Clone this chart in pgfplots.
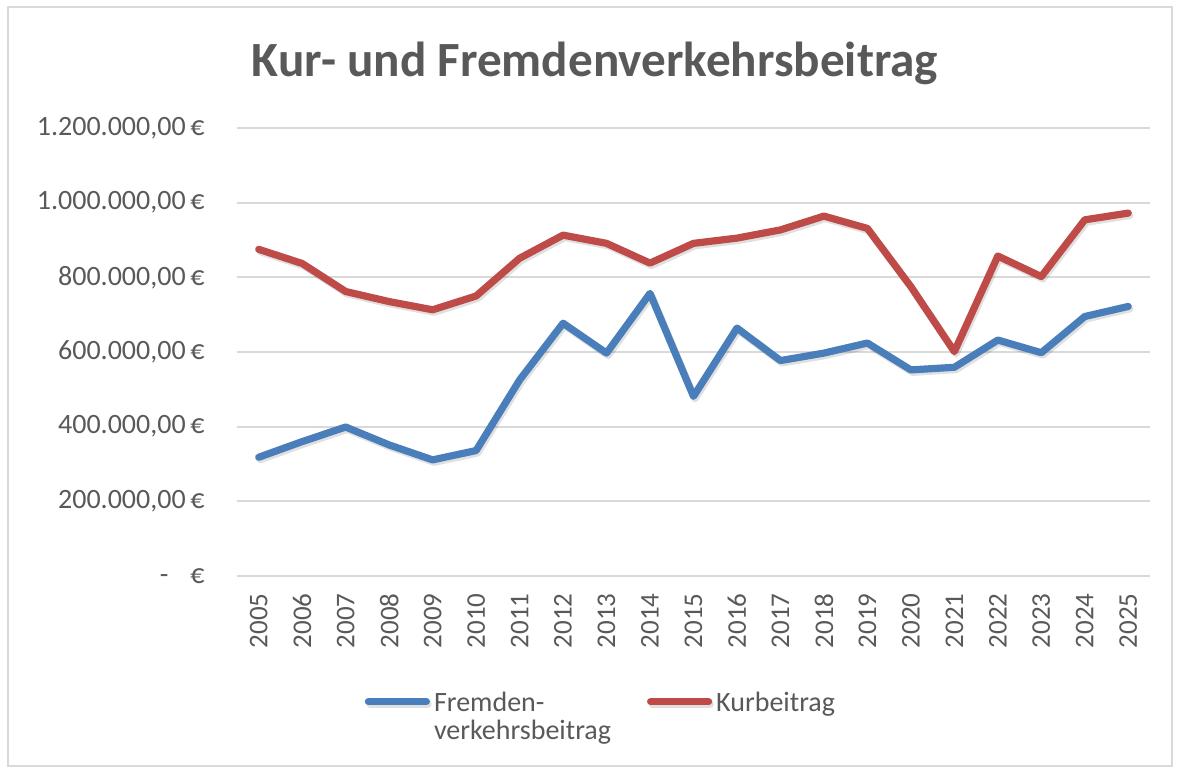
\documentclass[border=0pt]{standalone}
\usepackage{fontspec}
\setmainfont{Carlito}
\usepackage{pgfplots}
\pgfplotsset{compat=1.18}
\definecolor{txtgray}{HTML}{595959}
\definecolor{gridgray}{HTML}{D9D9D9}
\definecolor{serblue}{HTML}{4A7EBB}
\definecolor{serred}{HTML}{BE4B48}
\begin{document}
\begin{tikzpicture}
\path[use as bounding box] (0,0) rectangle (590pt,384.5pt);
\draw[gridgray, line width=0.8pt] (4pt,1.5pt) rectangle (586pt,381pt);
\node[anchor=base, text=txtgray, font=\fontsize{24.6}{30}\selectfont\bfseries, inner sep=0pt] at (297.5pt,346pt) {Kur- und Fremdenverkehrsbeitrag};
\begin{axis}[
  at={(118.5pt,96.5pt)}, anchor=south west,
  scale only axis, width=456.5pt, height=224pt,
  xmin=2004.5, xmax=2025.5, ymin=0, ymax=1200000,
  scaled y ticks=false,
  axis line style={draw=none},
  tick style={draw=none},
  ymajorgrids, grid style={gridgray, line width=1pt},
  xtick={2005,2006,2007,2008,2009,2010,2011,2012,2013,2014,2015,2016,2017,2018,2019,2020,2021,2022,2023,2024,2025},
  xticklabels={2005,2006,2007,2008,2009,2010,2011,2012,2013,2014,2015,2016,2017,2018,2019,2020,2021,2022,2023,2024,2025},
  ytick={0,200000,400000,600000,800000,1000000,1200000},
  yticklabels={{-\hspace{11pt}€},{200.000,00\,€},{400.000,00\,€},{600.000,00\,€},{800.000,00\,€},{1.000.000,00\,€},{1.200.000,00\,€}},
  xticklabel style={rotate=90, anchor=east, inner sep=0pt, text=txtgray, font=\fontsize{13.5}{15}\selectfont},
  yticklabel style={anchor=east, inner sep=0pt, text=txtgray, font=\fontsize{14}{16}\selectfont},
  xticklabel shift=8.5pt,
  yticklabel shift=16pt,
  legend columns=2,
  legend style={draw=none, fill=none, at={(0.140,-0.243)}, anchor=north west, inner sep=0pt, outer sep=0pt,
    cells={anchor=base west, text=txtgray, font=\fontsize{14}{16}\selectfont},
    /tikz/every even column/.append style={column sep=16pt}},
  legend image code/.code={\draw[#1, line cap=round] (0pt,4.8pt) -- (29pt,4.8pt);},
]
\addplot[serblue, line width=3.6pt, line join=round, line cap=round,
  preaction={draw=black, opacity=0.12, line width=3.6pt, transform canvas={xshift=0.8pt, yshift=-1.2pt}}]
  coordinates {(2005,318000) (2006,360000) (2007,399000) (2008,351000) (2009,311000) (2010,336000) (2011,525000) (2012,677000) (2013,597000) (2014,757000) (2015,481000) (2016,664000) (2017,577000) (2018,597000) (2019,624000) (2020,552000) (2021,559000) (2022,632000) (2023,598000) (2024,695000) (2025,722000)};
\addlegendentry{\begin{tabular}[t]{@{}l@{}}Fremden-\\[-2pt]verkehrsbeitrag\end{tabular}}
\addplot[serred, line width=3.6pt, line join=round, line cap=round,
  preaction={draw=black, opacity=0.12, line width=3.6pt, transform canvas={xshift=0.8pt, yshift=-1.2pt}}]
  coordinates {(2005,875000) (2006,837000) (2007,762000) (2008,735000) (2009,713000) (2010,750000) (2011,851000) (2012,913000) (2013,891000) (2014,838000) (2015,891000) (2016,905000) (2017,927000) (2018,964000) (2019,931000) (2020,775000) (2021,601000) (2022,857000) (2023,802000) (2024,954000) (2025,972000)};
\addlegendentry{Kurbeitrag}
\end{axis}
\end{tikzpicture}
\end{document}
